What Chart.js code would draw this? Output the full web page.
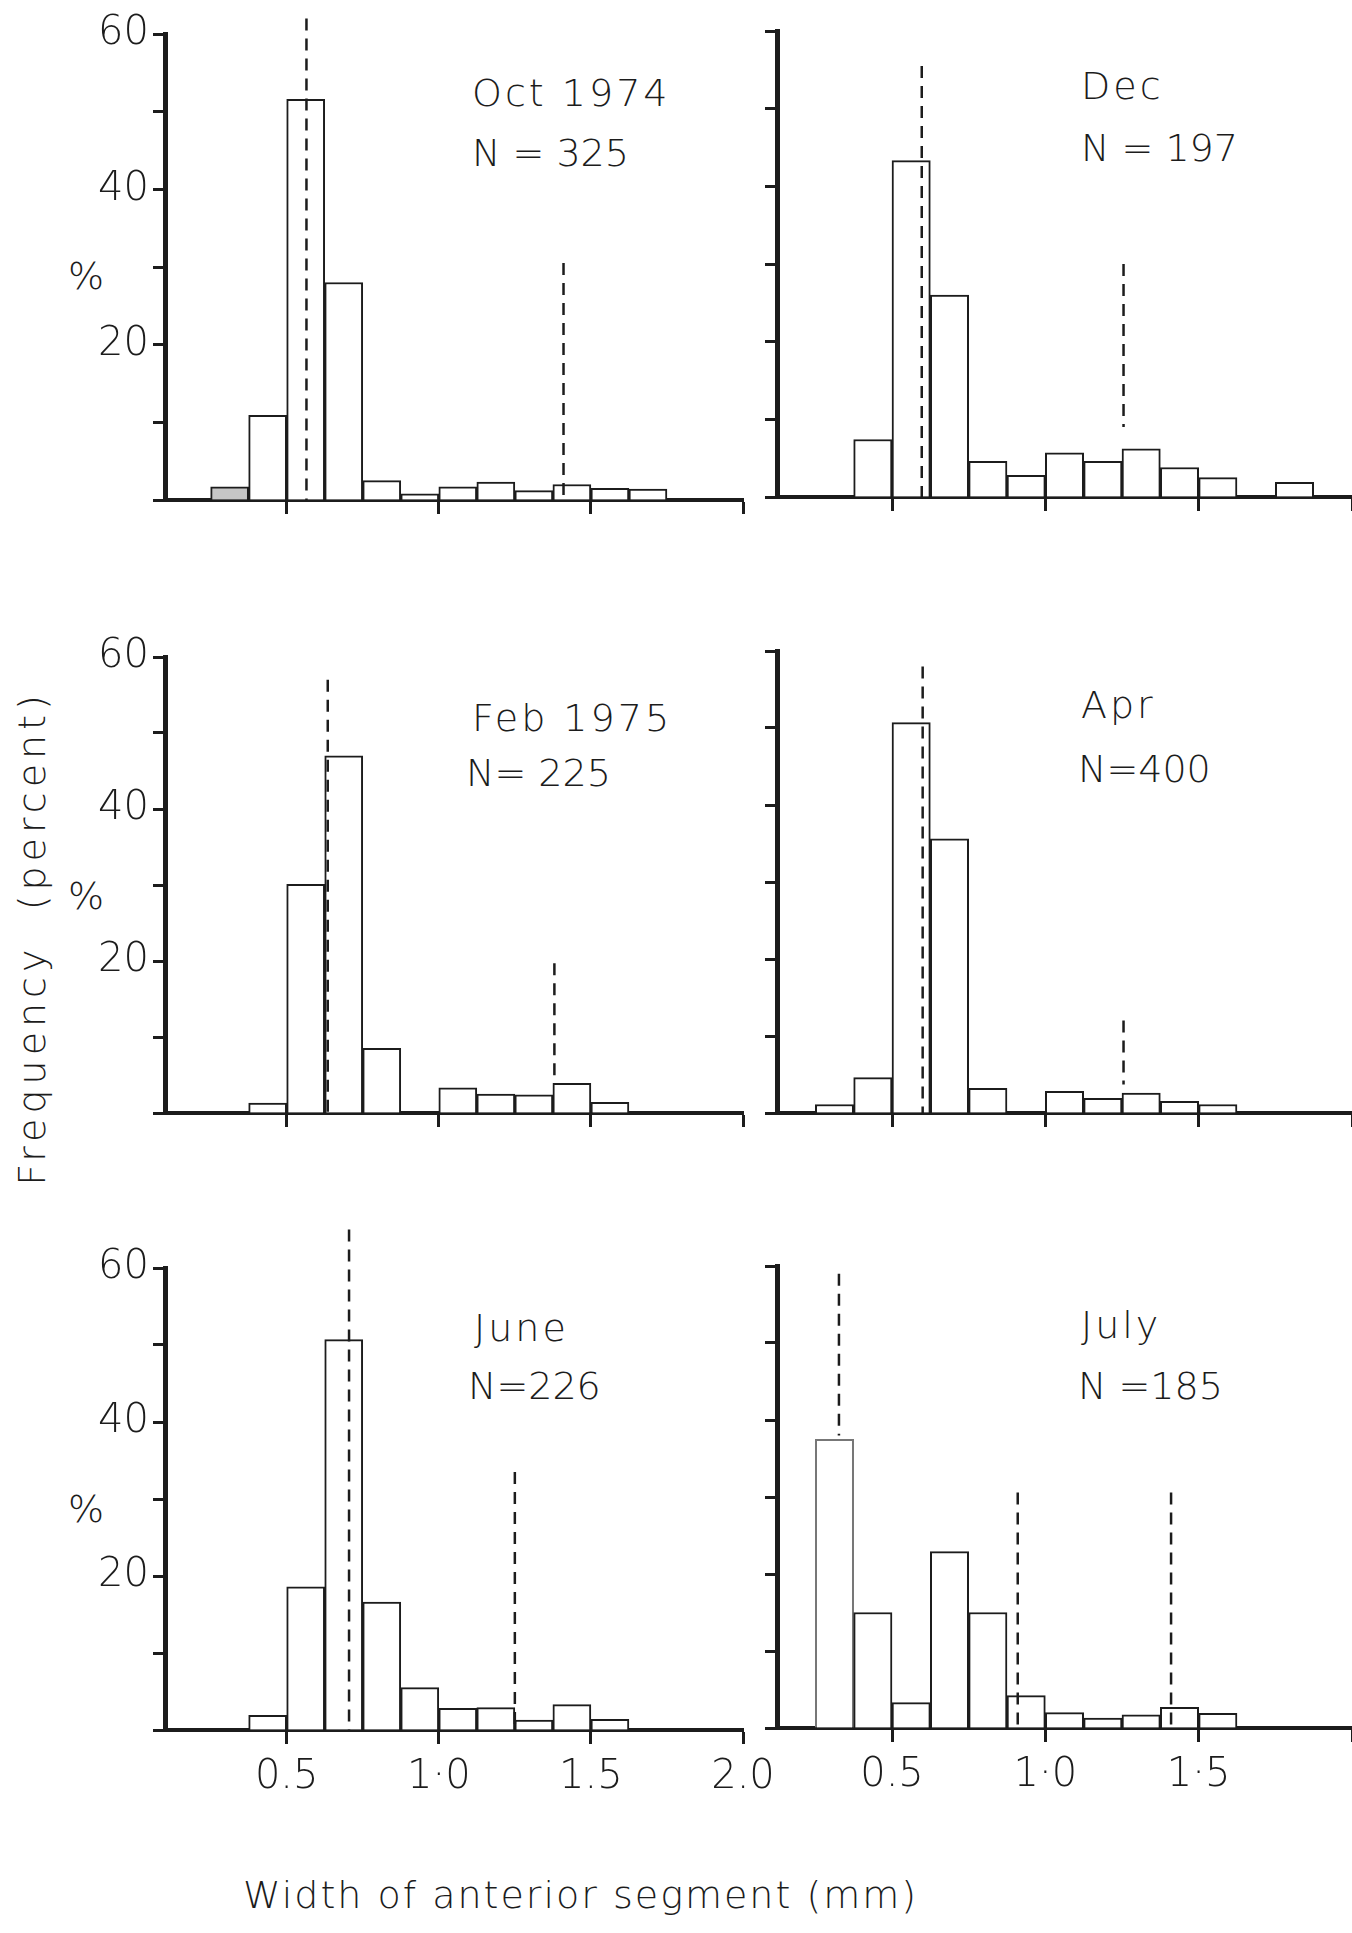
<!DOCTYPE html>
<html lang="en">
  <head>
    <meta charset="UTF-8" />
    <title>Width of anterior segment - monthly frequency</title>
    <script src="https://cdn.jsdelivr.net/npm/chart.js@4.4.1/dist/chart.umd.min.js"></script>
    <style>
      body {
        margin: 0;
        background: #fff;
      }

      #page {
        position: relative;
        width: 1352px;
        height: 1933px;
        overflow: hidden;
        font-family: "DejaVu Sans", sans-serif;
        font-weight: 200;
        color: #1c1c1c;
      }

      #page canvas {
        position: absolute;
      }

      .lbl {
        position: absolute;
        font-size: 38px;
        line-height: 1;
        white-space: nowrap;
      }

      .title {
        letter-spacing: 3px;
      }

      #ytitle {
        left: 32px;
        top: 938px;
        letter-spacing: 5px;
        transform: translate(-50%, -50%) rotate(-90deg);
      }

      #xtitle {
        left: 243px;
        top: 1876px;
        letter-spacing: 2px;
      }
    </style>
  </head>
  <body>
    <div id="page">
      <!-- panel captions -->
      <div class="lbl title" style="left:472px;top:74px">Oct 1974</div>
      <div class="lbl" style="left:472px;top:134px">N = 325</div>
      <div class="lbl title" style="left:1081px;top:67px">Dec</div>
      <div class="lbl" style="left:1081px;top:129px">N = 197</div>
      <div class="lbl title" style="left:472px;top:699px">Feb 1975</div>
      <div class="lbl" style="left:466px;top:754px">N= 225</div>
      <div class="lbl title" style="left:1081px;top:686px">Apr</div>
      <div class="lbl" style="left:1078px;top:750px">N=400</div>
      <div class="lbl title" style="left:474px;top:1309px">June</div>
      <div class="lbl" style="left:468px;top:1367px">N=226</div>
      <div class="lbl title" style="left:1081px;top:1306px">July</div>
      <div class="lbl" style="left:1078px;top:1367px">N =185</div>

      <!-- y units -->
      <div class="lbl" style="left:68px;top:257px">%</div>
      <div class="lbl" style="left:68px;top:877px">%</div>
      <div class="lbl" style="left:68px;top:1490px">%</div>

      <div class="lbl" id="ytitle">Frequency&nbsp; (percent)</div>
      <div class="lbl" id="xtitle">Width of anterior segment (mm)</div>
    </div>

    <script>
      // lower edge of each 0.125 mm size class
      const binStarts = [0.25, 0.375, 0.5, 0.625, 0.75, 0.875, 1.0, 1.125, 1.25, 1.375, 1.5, 1.625, 1.75];
      const binWidth = 0.125;

      // percent of sample in each class
      const oct1974 = [1.7, 10.9, 51.6, 28.0, 2.5, 0.8, 1.7, 2.3, 1.2, 2.0, 1.5, 1.4, 0];
      const dec1974 = [0, 7.4, 43.3, 26.0, 4.6, 2.8, 5.7, 4.6, 6.2, 3.8, 2.5, 0, 1.9];
      const feb1975 = [0, 1.3, 30.1, 47.0, 8.5, 0, 3.3, 2.5, 2.4, 3.9, 1.4, 0, 0];
      const apr1975 = [1.1, 4.6, 50.7, 35.6, 3.2, 0, 2.8, 1.9, 2.6, 1.5, 1.1, 0, 0];
      const jun1975 = [0, 1.9, 18.6, 50.7, 16.6, 5.5, 2.8, 2.9, 1.3, 3.3, 1.4, 0, 0];
      const jul1975 = [37.5, 15.0, 3.3, 22.9, 15.0, 4.2, 2.0, 1.3, 1.7, 2.7, 1.9, 0, 0];

      // dashed mode markers: position (mm), top and bottom (%)
      const octModeX = [0.565, 1.41];
      const octModeTop = [62, 30.5];
      const octModeBottom = [0, 0];
      const decModeX = [0.597, 1.255];
      const decModeTop = [55.5, 30];
      const decModeBottom = [0, 9];
      const febModeX = [0.635, 1.38];
      const febModeTop = [57, 19.7];
      const febModeBottom = [0, 4];
      const aprModeX = [0.6, 1.255];
      const aprModeTop = [58, 12];
      const aprModeBottom = [0, 3.7];
      const junModeX = [0.705, 1.25];
      const junModeTop = [65, 33.5];
      const junModeBottom = [0, 0];
      const julModeX = [0.327, 0.91, 1.41];
      const julModeTop = [59, 30.6, 30.6];
      const julModeBottom = [38, 0, 0];

      const xTickValues = [0.5, 1.0, 1.5, 2.0];
      const xTickLabels = ["0.5", "1·0", "1.5", "2.0"];
      const xTickLabelsRight = ["0.5", "1·0", "1·5", ""];
      const yTickValues = [0, 10, 20, 30, 40, 50, 60];
      const yLabelled = [20, 40, 60];

      const ink = "#1c1c1c";
      const tickFont = { family: "'DejaVu Sans', sans-serif", size: 40, weight: "200" };

      const panels = [
        { values: oct1974, mx: octModeX, mt: octModeTop, mb: octModeBottom, col: 0, top: 34, base: 500, shaded: 0 },
        { values: dec1974, mx: decModeX, mt: decModeTop, mb: decModeBottom, col: 1, top: 31, base: 497 },
        { values: feb1975, mx: febModeX, mt: febModeTop, mb: febModeBottom, col: 0, top: 657, base: 1113 },
        { values: apr1975, mx: aprModeX, mt: aprModeTop, mb: aprModeBottom, col: 1, top: 651, base: 1113 },
        { values: jun1975, mx: junModeX, mt: junModeTop, mb: junModeBottom, col: 0, top: 1268, base: 1730, xLabels: true },
        { values: jul1975, mx: julModeX, mt: julModeTop, mb: julModeBottom, col: 1, top: 1266, base: 1728, xLabels: true, greyEdge: 0 },
      ];

      const page = document.getElementById("page");

      function makePanel(p) {
        const left = p.col === 0;
        const padTop = 50;
        const xH = p.xLabels ? 75 : 22;
        const canvasLeft = left ? 0 : 748;
        const areaLeft = left ? 165 : 777;
        const areaRight = left ? 743 : 1352;
        const canvasRight = left ? 800 : 1352;

        const cv = document.createElement("canvas");
        cv.width = canvasRight - canvasLeft;
        cv.height = padTop + (p.base - p.top) + xH;
        cv.style.left = canvasLeft + "px";
        cv.style.top = p.top - padTop + "px";
        page.appendChild(cv);

        const bars = {
          type: "bar",
          data: p.values.map((v, i) => ({ x: binStarts[i] + binWidth / 2, y: v })),
          backgroundColor: (c) => (c.dataIndex === p.shaded ? "#c6c6c6" : "#fff"),
          borderColor: (c) => (c.dataIndex === p.greyEdge ? "#777" : ink),
          borderWidth: 2,
          borderSkipped: "start",
          barPercentage: 1,
          categoryPercentage: 1,
          grouped: false,
          order: 2,
        };

        const modes = p.mx.map((x, i) => ({
          type: "line",
          data: [
            { x: x, y: p.mt[i] },
            { x: x, y: p.mb[i] },
          ],
          borderColor: ink,
          borderWidth: 2.5,
          borderDash: [12, 8],
          pointRadius: 0,
          fill: false,
          clip: false,
          order: 1,
        }));

        new Chart(cv, {
          type: "bar",
          data: { datasets: [bars, ...modes] },
          options: {
            responsive: false,
            animation: false,
            devicePixelRatio: 1,
            layout: { padding: { top: padTop, right: canvasRight - areaRight, left: 0, bottom: 0 } },
            plugins: { legend: { display: false }, tooltip: { enabled: false } },
            scales: {
              x: {
                type: "linear",
                offset: false,
                min: left ? 0.1 : 0.125,
                max: 2.0,
                afterFit: (s) => {
                  s.height = xH;
                  s.paddingLeft = 0;
                  s.paddingRight = 0;
                },
                afterBuildTicks: (s) => {
                  s.ticks = xTickValues.map((v) => ({ value: v }));
                },
                ticks: {
                  display: !!p.xLabels,
                  autoSkip: false,
                  maxRotation: 0,
                  padding: 10,
                  color: ink,
                  font: tickFont,
                  callback: (v, i) => (left ? xTickLabels[i] : xTickLabelsRight[i]),
                },
                grid: { offset: false, drawOnChartArea: false, tickLength: 14, tickWidth: 3, tickColor: ink },
                border: { width: 4, color: ink },
              },
              y: {
                min: 0,
                max: 60,
                afterFit: (s) => {
                  s.width = areaLeft - canvasLeft;
                  s.paddingTop = 0;
                  s.paddingBottom = 0;
                },
                afterBuildTicks: (s) => {
                  s.ticks = yTickValues.map((v) => ({ value: v }));
                },
                ticks: {
                  padding: 4,
                  color: ink,
                  font: tickFont,
                  callback: (v) => (left && yLabelled.includes(v) ? String(v) : ""),
                },
                grid: { drawOnChartArea: false, tickLength: 12, tickWidth: 3, tickColor: ink },
                border: { width: 5, color: ink },
              },
            },
          },
        });
      }

      panels.forEach(makePanel);
    </script>
  </body>
</html>
